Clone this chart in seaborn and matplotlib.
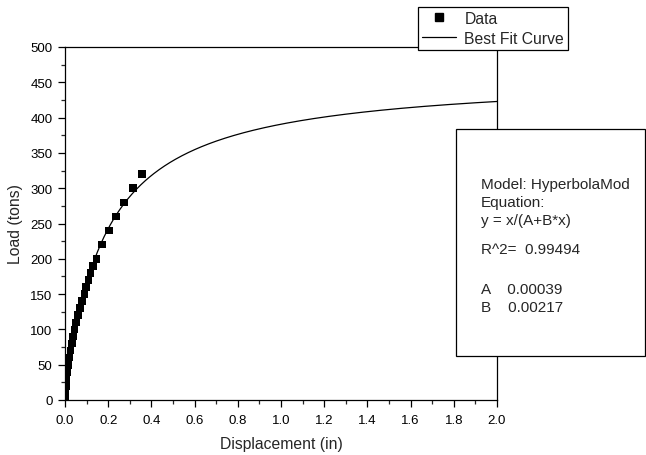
import numpy as np
import pandas as pd
import matplotlib
matplotlib.use("Agg")
import matplotlib.pyplot as plt
import seaborn as sns
from matplotlib.lines import Line2D
from matplotlib.patches import Rectangle

# ---- data ----
load_tons = [0, 10, 20, 30, 40, 50, 60, 70, 80, 90, 100, 110, 120, 130, 140,
             150, 160, 170, 180, 190, 200, 220, 240, 260, 280, 300, 320]
displacement_in = [0.000, 0.002, 0.004, 0.007, 0.011, 0.016, 0.021, 0.026, 0.032,
                   0.038, 0.044, 0.052, 0.061, 0.070, 0.080, 0.090, 0.098, 0.108,
                   0.118, 0.131, 0.145, 0.171, 0.205, 0.235, 0.274, 0.314, 0.357]

# fitted model parameters shown in the chart
param_A = 0.00039
param_B = 0.00217
r_squared = 0.99494
fit_x_range = [0.0, 2.0]

x_ticks = [0.0, 0.2, 0.4, 0.6, 0.8, 1.0, 1.2, 1.4, 1.6, 1.8, 2.0]
y_ticks = [0, 50, 100, 150, 200, 250, 300, 350, 400, 450, 500]

sns.set_theme(style="ticks")
plt.rcParams['font.family'] = ['Liberation Sans', 'DejaVu Sans']

W, H = 646, 456
fig = plt.figure(figsize=(W / 100, H / 100), dpi=100)
ax = fig.add_axes([65 / W, 55 / H, (497 - 65) / W, (401 - 48) / H])

df = pd.DataFrame({"Displacement": displacement_in, "Load": load_tons})

xf = np.linspace(fit_x_range[0], fit_x_range[1], 400)
yf = xf / (param_A + param_B * xf)
sns.lineplot(x=xf, y=yf, ax=ax, color="black", linewidth=0.9, zorder=2)
sns.scatterplot(data=df, x="Displacement", y="Load", ax=ax, marker="s", s=30,
                color="black", edgecolor="none", zorder=3)

ax.set_xlim(0, 2.0)
ax.set_ylim(0, 500)
ax.set_xticks(x_ticks)
ax.set_xticklabels([f"{v:.1f}" for v in x_ticks])
ax.set_yticks(y_ticks)
ax.set_xticks(np.arange(0.1, 2.0, 0.2), minor=True)
ax.set_yticks(np.arange(25, 500, 50), minor=True)
ax.tick_params(axis="x", which="major", direction="out", length=5, width=0.9,
               labelsize=9.5, colors="black", pad=5)
ax.tick_params(axis="y", which="major", direction="out", length=5, width=0.9,
               labelsize=9.5, colors="black", pad=4)
ax.tick_params(axis="both", which="minor", direction="out", length=3, width=0.9)
ax.set_xlabel("Displacement (in)", fontsize=11.3, labelpad=7)
ax.set_ylabel("Load (tons)", fontsize=11.3, labelpad=5)
for s in ax.spines.values():
    s.set_visible(True)
    s.set_linewidth(0.9)
    s.set_color("black")

handles = [Line2D([], [], marker="s", color="black", linestyle="none", markersize=5.5),
           Line2D([], [], color="black", linewidth=0.9)]
leg = ax.legend(handles, ["Data", "Best Fit Curve"], loc="upper left",
                bbox_to_anchor=(418 / W, 1 - 8 / H), bbox_transform=fig.transFigure,
                borderaxespad=0, frameon=True, fancybox=False, framealpha=1,
                edgecolor="black", fontsize=11.3, handlelength=2.2, handletextpad=0.5,
                borderpad=0.25, labelspacing=0.3)
leg.get_frame().set_linewidth(0.9)

# statistics box
rect = Rectangle((456 / W, 1 - 357 / H), (645 - 456) / W, (357 - 130) / H,
                 transform=fig.transFigure, facecolor="white", edgecolor="black",
                 linewidth=0.9, zorder=10)
fig.patches.append(rect)
tx = 481 / W
lines = [("Model: HyperbolaMod", 185), ("Equation:", 203), ("y = x/(A+B*x)", 221),
         (f"R^2=  {r_squared:.5f}", 250), (f"A    {param_A:.5f}", 290),
         (f"B    {param_B:.5f}", 308)]
for txt, yp in lines:
    fig.text(tx, 1 - yp / H, txt, fontsize=11, va="center", ha="left", zorder=11)

fig.savefig("out.png", dpi=100)
